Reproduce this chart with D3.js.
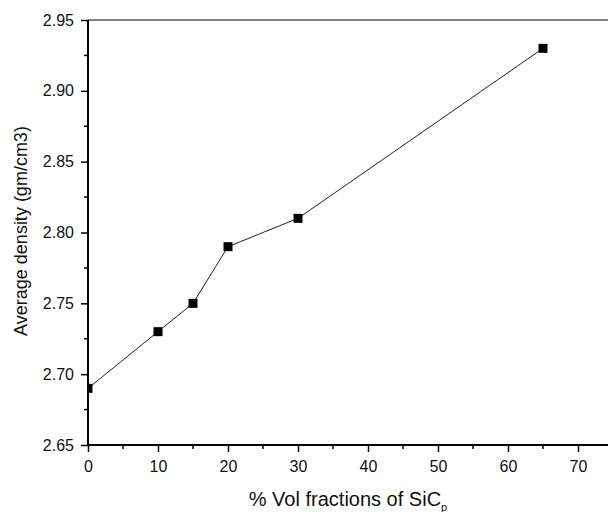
<!DOCTYPE html>
<html>
<head>
<meta charset="utf-8">
<script src="https://d3js.org/d3.v7.min.js"></script>
<style>
  body { margin: 0; background: #fff; }
  svg { display: block; font-family: Arial, "Liberation Sans", sans-serif; }
</style>
</head>
<body>
<svg id="chart" width="608" height="512"></svg>
<script>
// data
var volFraction = [0, 10, 15, 20, 30, 65];
var density = [2.69, 2.73, 2.75, 2.79, 2.81, 2.93];
var xTicks = [0, 10, 20, 30, 40, 50, 60, 70];
var yTicks = [2.65, 2.70, 2.75, 2.80, 2.85, 2.90, 2.95];

var svg = d3.select("#chart");
var leftX = 88, topY = 20, bottomY = 445;

var x = d3.scaleLinear().domain([0, 75]).range([leftX, leftX + 525]);
var y = d3.scaleLinear().domain([2.65, 2.95]).range([bottomY, topY]);

var pts = volFraction.map(function(v, i) { return [v, density[i]]; });

svg.append("clipPath").attr("id", "plotclip")
  .append("rect")
  .attr("x", leftX).attr("y", topY)
  .attr("width", 608 - leftX).attr("height", bottomY - topY);

// top frame line
svg.append("line")
  .attr("x1", leftX).attr("x2", 608)
  .attr("y1", topY).attr("y2", topY)
  .attr("stroke", "#000").attr("stroke-width", 1);

var plot = svg.append("g").attr("clip-path", "url(#plotclip)");

// series line
plot.append("path")
  .datum(pts)
  .attr("fill", "none")
  .attr("stroke", "#222")
  .attr("stroke-width", 1)
  .attr("d", d3.line().x(function(d) { return x(d[0]); }).y(function(d) { return y(d[1]); }));

// markers
plot.selectAll("rect.pt")
  .data(pts)
  .enter().append("rect")
  .attr("class", "pt")
  .attr("x", function(d) { return x(d[0]) - 4.5; })
  .attr("y", function(d) { return y(d[1]) - 4.5; })
  .attr("width", 9).attr("height", 9)
  .attr("fill", "#000");

// minor ticks
var xMinor = d3.range(5, 75, 10);
var yMinor = d3.range(0, 6).map(function(i) { return 2.675 + i * 0.05; });

var gx = svg.append("g").attr("transform", "translate(0," + bottomY + ")");
gx.selectAll("line.minor").data(xMinor).enter().append("line")
  .attr("x1", function(d) { return x(d); }).attr("x2", function(d) { return x(d); })
  .attr("y1", 0).attr("y2", 4)
  .attr("stroke", "#000").attr("stroke-width", 1.5);
gx.call(d3.axisBottom(x).tickValues(xTicks).tickSize(7).tickPadding(9).tickFormat(d3.format("d")));
gx.select(".domain").attr("stroke-width", 2).attr("d", "M" + leftX + ",0H608");
gx.selectAll(".tick line").attr("stroke-width", 1.5);
gx.selectAll(".tick text").attr("font-size", "16px").attr("fill", "#111").attr("font-family", "Arial, 'Liberation Sans', sans-serif");

var gy = svg.append("g").attr("transform", "translate(" + leftX + ",0)");
gy.selectAll("line.minor").data(yMinor).enter().append("line")
  .attr("x1", -4).attr("x2", 0)
  .attr("y1", function(d) { return y(d); }).attr("y2", function(d) { return y(d); })
  .attr("stroke", "#000").attr("stroke-width", 1.5);
gy.call(d3.axisLeft(y).tickValues(yTicks).tickSize(7).tickPadding(7).tickFormat(d3.format(".2f")));
gy.select(".domain").attr("stroke-width", 2).attr("d", "M0," + topY + "V" + (bottomY + 1));
gy.selectAll(".tick line").attr("stroke-width", 1.5);
gy.selectAll(".tick text").attr("font-size", "16px").attr("fill", "#111").attr("font-family", "Arial, 'Liberation Sans', sans-serif");

// axis titles
var xt = svg.append("text")
  .attr("x", 348).attr("y", 506)
  .attr("text-anchor", "middle")
  .attr("font-size", "20px").attr("fill", "#111");
xt.append("tspan").text("% Vol fractions of SiC");
xt.append("tspan").attr("font-size", "11px").attr("dy", 5).text("p");

svg.append("text")
  .attr("transform", "translate(27,231) rotate(-90)")
  .attr("text-anchor", "middle")
  .attr("font-size", "18px").attr("fill", "#111")
  .text("Average density (gm/cm3)");
</script>
</body>
</html>
